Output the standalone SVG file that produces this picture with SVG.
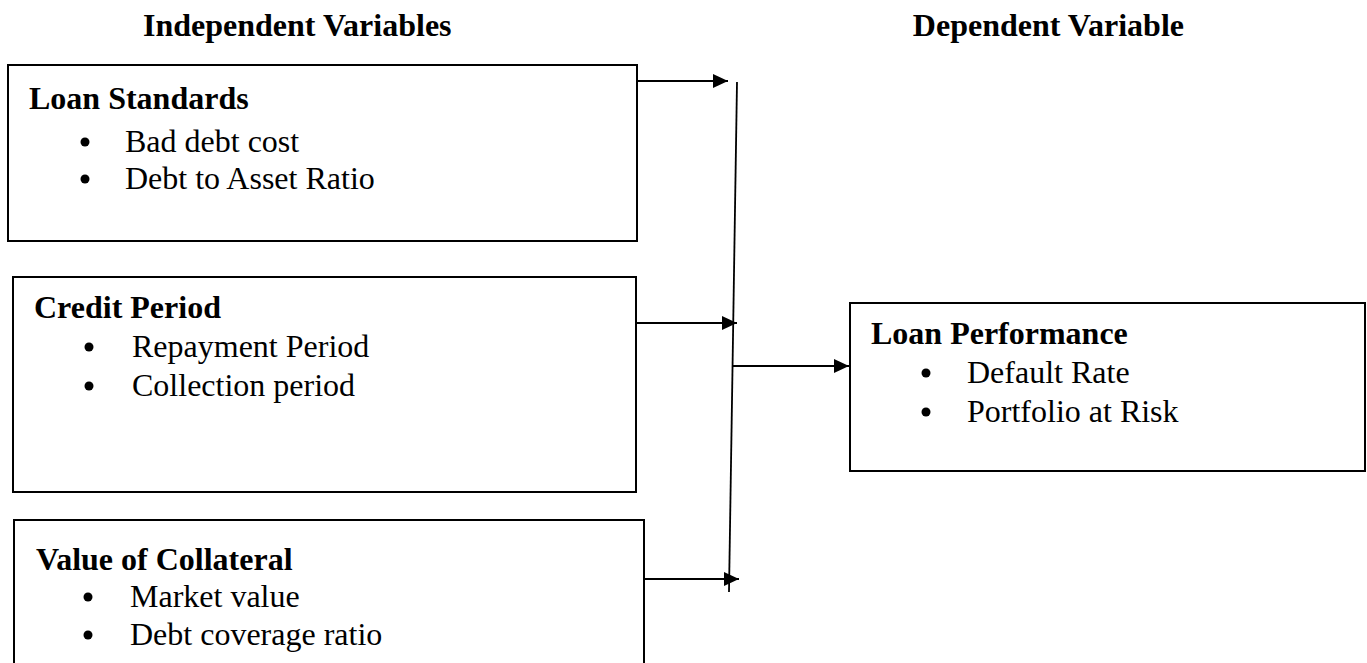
<svg xmlns="http://www.w3.org/2000/svg" width="1367" height="663" viewBox="0 0 1367 663">
<style>
  .box{fill:#fff;stroke:#000;stroke-width:2}
  .h{font-family:"Liberation Serif","Times New Roman",serif;font-weight:bold;font-size:32px;fill:#000}
  .t{font-family:"Liberation Serif","Times New Roman",serif;font-size:32px;fill:#000}
  .b{fill:#000}
  .ln{stroke:#000;stroke-width:1.8;fill:none}
</style>
<defs>
  <marker id="ah" viewBox="0 0 15 14" refX="15" refY="7" markerWidth="15" markerHeight="14" markerUnits="userSpaceOnUse" orient="auto">
    <path d="M0,0 L15,7 L0,14 Z" fill="#000"/>
  </marker>
</defs>
<rect width="1367" height="663" fill="#fff"/>
<g id="titles">
  <text class="h" x="143" y="36">Independent Variables</text>
  <text class="h" x="1184" y="36" text-anchor="end">Dependent Variable</text>
</g>
<g id="loan-standards">
  <rect class="box" x="8" y="65" width="629" height="176"/>
  <text class="h" x="29" y="109">Loan Standards</text>
  <circle class="b" cx="85" cy="142" r="4.5"/>
  <text class="t" x="125" y="152">Bad debt cost</text>
  <circle class="b" cx="85" cy="179" r="4.5"/>
  <text class="t" x="125" y="189">Debt to Asset Ratio</text>
</g>
<g id="credit-period">
  <rect class="box" x="13" y="277" width="623" height="215"/>
  <text class="h" x="34" y="318">Credit Period</text>
  <circle class="b" cx="89" cy="347" r="4.5"/>
  <text class="t" x="132" y="357">Repayment Period</text>
  <circle class="b" cx="89" cy="386" r="4.5"/>
  <text class="t" x="132" y="396">Collection period</text>
</g>
<g id="value-of-collateral">
  <rect class="box" x="14" y="520" width="630" height="170"/>
  <text class="h" x="36" y="570">Value of Collateral</text>
  <circle class="b" cx="88" cy="597" r="4.5"/>
  <text class="t" x="130" y="607">Market value</text>
  <circle class="b" cx="88" cy="635" r="4.5"/>
  <text class="t" x="130" y="645">Debt coverage ratio</text>
</g>
<g id="loan-performance">
  <rect class="box" x="850" y="303" width="515" height="168"/>
  <text class="h" x="871" y="344">Loan Performance</text>
  <circle class="b" cx="926" cy="373" r="4.5"/>
  <text class="t" x="967" y="383">Default Rate</text>
  <circle class="b" cx="926" cy="412" r="4.5"/>
  <text class="t" x="967" y="422">Portfolio at Risk</text>
</g>
<g id="connectors">
  <line class="ln" x1="737" y1="82" x2="729" y2="592"/>
  <line class="ln" x1="637" y1="81" x2="728" y2="81" marker-end="url(#ah)"/>
  <line class="ln" x1="636" y1="323" x2="737" y2="323" marker-end="url(#ah)"/>
  <line class="ln" x1="644" y1="579" x2="739" y2="579" marker-end="url(#ah)"/>
  <line class="ln" x1="732" y1="366" x2="849" y2="366" marker-end="url(#ah)"/>
</g>
</svg>
